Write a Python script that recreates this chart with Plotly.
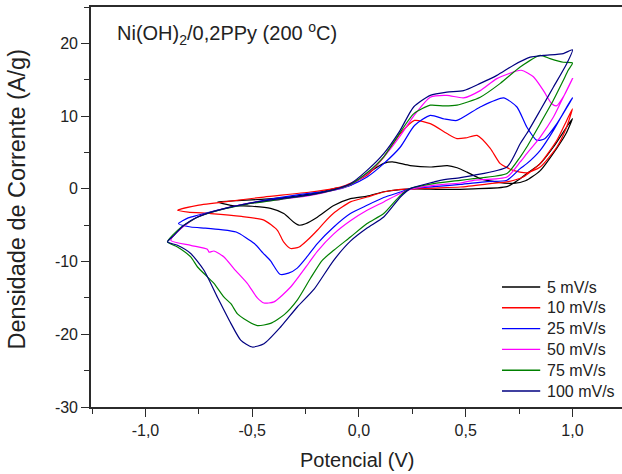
import plotly.graph_objects as go

# Cyclic voltammograms of Ni(OH)2/0,2PPy (200 °C) at several scan rates.
# Each loop: anodic sweep from the negative vertex up to 1,0 V, then the cathodic return.

scan_labels = ["5 mV/s", "10 mV/s", "25 mV/s", "50 mV/s", "75 mV/s", "100 mV/s"]
line_colors = ["#000000", "#FF0000", "#0000FF", "#FF00FF", "#008000", "#000080"]

v_5 = [-0.663, -0.55, -0.46, -0.35, -0.27, -0.19, -0.12, -0.04, 0.038, 0.116, 0.157, 0.24, 0.334,
       0.414, 0.46, 0.506, 0.568, 0.646, 0.724, 0.78, 0.849, 0.927, 0.97, 1.0,
       0.973, 0.911, 0.849, 0.786, 0.755, 0.693, 0.537, 0.381, 0.27, 0.194, 0.116, 0.038, -0.04,
       -0.118, -0.195, -0.25, -0.281, -0.305, -0.352, -0.414, -0.5, -0.60, -0.663]
i_5 = [-1.8, -1.6, -1.45, -1.2, -0.9, -0.5, 0.0, 0.5, 2.1, 3.5, 3.7, 3.2, 3.0,
       3.2, 2.9, 2.3, 1.4, 0.93, 0.75, 1.1, 2.5, 5.6, 7.6, 9.65,
       8.5, 5.75, 3.46, 2.1, 1.4, 0.3, 0.0, -0.07, 0.0, -0.1, -0.4, -1.0, -1.35,
       -2.3, -3.9, -4.8, -5.0, -4.6, -3.4, -2.7, -2.4, -2.27, -1.8]

v_10 = [-0.85, -0.756, -0.60, -0.445, -0.227, -0.12, -0.072, 0.038, 0.116, 0.194, 0.26, 0.334,
        0.412, 0.459, 0.50, 0.553, 0.615, 0.662, 0.722, 0.786, 0.849, 0.927, 0.97, 1.0,
        0.973, 0.927, 0.849, 0.769, 0.70, 0.615, 0.475, 0.348, 0.194, 0.115, 0.038, -0.04,
        -0.119, -0.166, -0.195, -0.242, -0.28, -0.32, -0.353, -0.382, -0.445, -0.55, -0.694, -0.80, -0.85]
i_10 = [-2.96, -2.27, -1.68, -1.13, -0.44, 0.03, 0.38, 1.86, 4.37, 7.6, 9.4, 8.96,
        7.6, 6.9, 7.0, 7.35, 5.57, 3.46, 2.54, 2.2, 3.0, 5.75, 8.3, 11.0,
        9.4, 6.67, 3.5, 1.62, 1.0, 0.71, 0.25, 0.1, -0.07, -0.44, -1.13, -1.8,
        -3.37, -4.74, -5.7, -7.08, -8.0, -8.2, -7.3, -5.7, -4.3, -3.8, -3.4, -3.2, -2.96]

v_25 = [-0.845, -0.80, -0.756, -0.60, -0.445, -0.273, -0.118, -0.04, 0.038, 0.116, 0.194, 0.26,
        0.334, 0.40, 0.459, 0.568, 0.677, 0.74, 0.786, 0.833, 0.87, 0.927, 1.0,
        0.973, 0.911, 0.849, 0.786, 0.755, 0.693, 0.60, 0.475, 0.35, 0.24, 0.194, 0.116, 0.038,
        -0.04, -0.118, -0.195, -0.242, -0.289, -0.33, -0.37, -0.414, -0.45, -0.49, -0.575,
        -0.647, -0.72, -0.788, -0.845]
i_25 = [-4.8, -4.0, -3.64, -2.5, -1.58, -0.76, -0.2, 0.48, 1.62, 3.46, 5.75, 8.7,
        10.1, 9.6, 9.4, 11.25, 12.5, 11.25, 8.5, 6.67, 6.9, 8.96, 12.5,
        11.25, 8.04, 5.3, 3.46, 2.78, 1.17, 1.0, 0.6, 0.3, 0.03, -0.44, -1.2, -2.27,
        -3.4, -5.25, -7.53, -9.3, -10.9, -11.6, -11.75, -9.9, -8.8, -7.53, -5.94,
        -5.6, -5.4, -5.25, -4.8]

v_50 = [-0.881, -0.834, -0.756, -0.663, -0.523, -0.367, -0.227, -0.118, -0.04, 0.038, 0.116, 0.194,
        0.256, 0.334, 0.412, 0.49, 0.568, 0.646, 0.76, 0.817, 0.864, 0.903, 0.925, 0.96, 1.0,
        0.957, 0.911, 0.849, 0.786, 0.755, 0.693, 0.537, 0.475, 0.35, 0.24, 0.194, 0.116, 0.038,
        -0.04, -0.118, -0.195, -0.235, -0.32, -0.398, -0.445, -0.476, -0.523, -0.585, -0.632,
        -0.679, -0.702, -0.71, -0.788, -0.881]
i_50 = [-7.08, -5.47, -3.88, -2.96, -2.03, -1.44, -0.9, -0.2, 0.58, 2.1, 4.37, 7.3,
        10.0, 12.6, 12.85, 12.5, 13.5, 15.15, 16.3, 15.4, 13.5, 11.7, 11.4, 12.8, 15.15,
        12.6, 9.87, 7.12, 4.84, 3.7, 1.62, 1.17, 0.8, 0.48, -0.07, -0.6, -1.8, -2.96,
        -4.4, -6.2, -8.6, -10.2, -13.5, -15.55, -15.7, -15.0, -13.0, -11.0, -9.37,
        -8.55, -8.7, -8.3, -7.77, -7.08]

v_75 = [-0.897, -0.834, -0.756, -0.663, -0.523, -0.367, -0.227, -0.118, -0.04, 0.038, 0.116, 0.179,
        0.256, 0.334, 0.40, 0.459, 0.568, 0.662, 0.755, 0.849, 0.895, 0.957, 1.0,
        0.98, 0.957, 0.911, 0.849, 0.786, 0.755, 0.693, 0.537, 0.475, 0.35, 0.24, 0.194, 0.116,
        0.038, -0.04, -0.118, -0.172, -0.227, -0.289, -0.35, -0.414, -0.476, -0.539, -0.569,
        -0.60, -0.632, -0.679, -0.71, -0.756, -0.788, -0.85, -0.897]
i_75 = [-7.31, -5.3, -3.9, -3.0, -2.1, -1.45, -0.85, -0.15, 0.6, 2.2, 4.4, 7.12,
        10.3, 11.5, 11.4, 11.5, 12.6, 14.5, 16.75, 18.35, 17.9, 17.4, 17.3,
        16.3, 14.9, 12.2, 8.96, 5.75, 4.37, 2.1, 1.4, 1.17, 0.71, 0.03, -0.9, -3.4,
        -4.78, -6.63, -8.45, -9.83, -12.3, -15.3, -17.3, -18.5, -18.8, -17.85, -17.2,
        -15.8, -14.9, -13.0, -12.1, -10.75, -9.37, -8.0, -7.31]

v_100 = [-0.897, -0.866, -0.82, -0.756, -0.663, -0.523, -0.367, -0.227, -0.118, -0.04, 0.038, 0.116,
         0.19, 0.256, 0.334, 0.412, 0.49, 0.568, 0.646, 0.724, 0.802, 0.864, 0.957, 1.0,
         0.973, 0.911, 0.849, 0.786, 0.755, 0.693, 0.537, 0.475, 0.381, 0.35, 0.24, 0.194, 0.116,
         0.038, -0.04, -0.12, -0.21, -0.289, -0.367, -0.445, -0.50, -0.554, -0.60, -0.663,
         -0.726, -0.788, -0.85, -0.897]
i_100 = [-7.31, -6.4, -5.0, -3.88, -2.96, -2.03, -1.35, -0.8, -0.1, 0.71, 2.54, 4.84,
         7.9, 11.25, 12.85, 13.3, 13.5, 14.5, 15.6, 17.0, 18.1, 18.35, 18.6, 19.1,
         17.2, 14.0, 10.8, 7.6, 6.2, 3.0, 1.86, 1.54, 1.17, 0.93, 0.03, -1.13, -3.88,
         -5.4, -7.2, -9.9, -13.8, -16.25, -19.0, -21.3, -21.75, -20.8, -18.5, -14.9,
         -11.2, -8.9, -7.77, -7.31]

potentials = [v_5, v_10, v_25, v_50, v_75, v_100]
currents = [i_5, i_10, i_25, i_50, i_75, i_100]

x_tick_vals = [-1.0, -0.5, 0.0, 0.5, 1.0]
x_tick_text = ["-1,0", "-0,5", "0,0", "0,5", "1,0"]
y_tick_vals = [-30, -20, -10, 0, 10, 20]
y_tick_text = ["-30", "-20", "-10", "0", "10", "20"]

FONT = "Arial, 'Liberation Sans', sans-serif"
AXIS_COLOR = "#2b2b2b"
TEXT_COLOR = "#222222"

fig = go.Figure()
for label, color, v, i in zip(scan_labels, line_colors, potentials, currents):
    fig.add_trace(go.Scatter(
        x=v, y=i, mode="lines", name=label, showlegend=False,
        line=dict(color=color, width=1.2, shape="spline", smoothing=0.6),
    ))

axis_common = dict(
    showline=True, linecolor=AXIS_COLOR, linewidth=1.6,
    ticks="outside", ticklen=8, tickwidth=1.3, tickcolor=AXIS_COLOR,
    showgrid=False, zeroline=False,
    tickfont=dict(family=FONT, size=16, color=TEXT_COLOR),
    tickmode="array",
)

fig.update_xaxes(
    **axis_common,
    range=[-1.255, 1.232],
    tickvals=x_tick_vals, ticktext=x_tick_text,
    minor=dict(tickmode="linear", tick0=0, dtick=0.25, ticks="outside",
               ticklen=5, tickwidth=1.2, tickcolor=AXIS_COLOR),
    mirror=True,
)
fig.update_yaxes(
    **axis_common,
    range=[-30, 25],
    tickvals=y_tick_vals, ticktext=y_tick_text,
    minor=dict(tickmode="linear", tick0=0, dtick=5, ticks="outside",
               ticklen=5, tickwidth=1.2, tickcolor=AXIS_COLOR),
)

# Legend block in the lower right corner: a short key line and a label per scan rate
legend_x0, legend_x1, legend_text_x = 0.774, 0.846, 0.855
legend_top, legend_step = 0.300, 0.052
shapes = []
annotations = []
for k, (label, color) in enumerate(zip(scan_labels, line_colors)):
    yk = legend_top - k * legend_step
    shapes.append(dict(type="line", xref="paper", yref="paper",
                       x0=legend_x0, x1=legend_x1, y0=yk, y1=yk,
                       line=dict(color=color, width=1.4)))
    annotations.append(dict(text=label, xref="paper", yref="paper",
                            x=legend_text_x, y=yk, xanchor="left", yanchor="middle",
                            showarrow=False,
                            font=dict(family=FONT, size=16, color=TEXT_COLOR)))

annotations += [
    dict(text="Ni(OH)<sub>2</sub>/0,2PPy (200 <sup>o</sup>C)",
         xref="paper", yref="paper", x=0.045, y=0.975,
         xanchor="left", yanchor="top", showarrow=False,
         font=dict(family=FONT, size=20, color=TEXT_COLOR)),
    dict(text="Potencial (V)", xref="paper", yref="paper",
         x=0.502, y=-0.132, xanchor="center", yanchor="middle",
         showarrow=False, font=dict(family=FONT, size=20, color=TEXT_COLOR)),
    dict(text="Densidade de Corrente (A/g)", xref="paper", yref="paper",
         x=-0.14, y=0.518, xanchor="center", yanchor="middle", textangle=-90,
         showarrow=False, font=dict(family=FONT, size=23.5, color=TEXT_COLOR)),
]

fig.update_layout(
    width=622, height=474,
    margin=dict(l=91, r=0, t=7, b=67),
    paper_bgcolor="white", plot_bgcolor="white",
    font=dict(family=FONT, color=TEXT_COLOR),
    showlegend=False,
    shapes=shapes,
    annotations=annotations,
)

fig.write_html("out.html")
